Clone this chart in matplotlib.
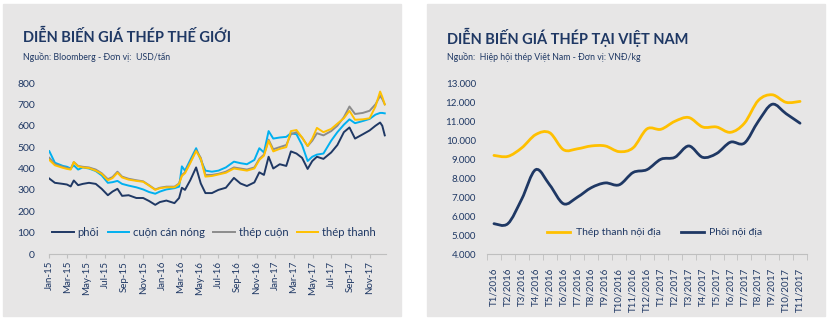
import matplotlib
matplotlib.use("Agg")
import matplotlib.pyplot as plt
import matplotlib.dates as mdates
from matplotlib.patches import Rectangle, PathPatch
from matplotlib.path import Path
from matplotlib.lines import Line2D
import numpy as np
import pandas as pd

# ---- left chart data (USD/tan) ----
world_dates = [
    "2015-01-02", "2015-01-20", "2015-02-15", "2015-02-28", "2015-03-12", "2015-03-22",
    "2015-04-05", "2015-04-20", "2015-05-10", "2015-06-01", "2015-06-20", "2015-07-10",
    "2015-07-25", "2015-08-10", "2015-08-25", "2015-09-15", "2015-10-10", "2015-11-01",
    "2015-11-20", "2015-12-10", "2015-12-25", "2016-01-15", "2016-02-10", "2016-02-25",
    "2016-03-05", "2016-03-15", "2016-04-01", "2016-04-20", "2016-05-05", "2016-05-20",
    "2016-06-10", "2016-07-01", "2016-07-25", "2016-08-20", "2016-09-10", "2016-10-01",
    "2016-10-25", "2016-11-10", "2016-11-25", "2016-12-10", "2016-12-25", "2017-01-15",
    "2017-02-05", "2017-02-20", "2017-03-10", "2017-03-28", "2017-04-15", "2017-04-30",
    "2017-05-15", "2017-06-05", "2017-06-30", "2017-07-20", "2017-08-10", "2017-08-28",
    "2017-09-15", "2017-10-10", "2017-11-01", "2017-11-20", "2017-12-05", "2017-12-12",
    "2017-12-20",
]
phoi = [353, 333, 328, 325, 316, 344, 322, 328, 333, 328, 305, 275, 292, 305, 272, 275,
        262, 262, 248, 230, 243, 250, 238, 262, 310, 300, 345, 405, 330, 285, 285, 300,
        310, 356, 330, 318, 335, 382, 370, 455, 400, 420, 412, 480, 470, 450, 398, 435,
        455, 445, 475, 510, 570, 592, 540, 560, 578, 600, 615, 600, 555]
cuon_can_nong = [481, 427, 412, 408, 400, 415, 395, 405, 400, 388, 368, 333, 336, 342, 328,
                 320, 312, 302, 290, 282, 292, 302, 308, 315, 410, 390, 440, 495, 440, 390,
                 385, 390, 405, 432, 425, 420, 440, 495, 475, 575, 540, 545, 548, 565, 560,
                 510, 435, 455, 465, 470, 530, 570, 605, 630, 612, 622, 632, 652, 660, 660,
                 658]
thep_cuon = [450, 420, 408, 402, 398, 430, 412, 408, 405, 395, 378, 350, 360, 385, 362, 352,
             345, 340, 322, 302, 310, 315, 315, 330, 370, 382, 430, 485, 450, 370, 370, 375,
             385, 405, 400, 395, 405, 445, 465, 535, 490, 500, 510, 560, 570, 545, 505, 530,
             565, 555, 575, 600, 640, 690, 655, 660, 670, 700, 740, 725, 700]
thep_thanh = [440, 415, 403, 398, 395, 430, 410, 405, 402, 390, 375, 345, 355, 380, 358, 348,
              342, 338, 320, 300, 308, 312, 312, 328, 365, 378, 425, 482, 445, 362, 365, 372,
              380, 400, 395, 390, 400, 440, 460, 530, 480, 492, 500, 575, 580, 545, 505, 540,
              590, 570, 585, 610, 635, 670, 628, 630, 635, 690, 760, 735, 700]

# ---- right chart data (VND/kg) ----
vn_months = ["T1/2016", "T2/2016", "T3/2016", "T4/2016", "T5/2016", "T6/2016", "T7/2016",
             "T8/2016", "T9/2016", "T10/2016", "T11/2016", "T12/2016", "T1/2017", "T2/2017",
             "T3/2017", "T4/2017", "T5/2017", "T6/2017", "T7/2017", "T8/2017", "T9/2017",
             "T10/2017", "T11/2017"]
thep_thanh_noi_dia = [9200, 9150, 9600, 10300, 10400, 9500, 9550, 9700, 9700, 9400, 9600,
                      10600, 10580, 11000, 11200, 10700, 10700, 10420, 10900, 12100, 12400,
                      12000, 12050]
phoi_noi_dia = [5600, 5600, 6900, 8450, 7650, 6650, 7000, 7500, 7750, 7650, 8300, 8450,
                9000, 9100, 9700, 9100, 9300, 9900, 9850, 11000, 11900, 11400, 10900]

NAVY = "#1F3864"
BLUE = "#00B0F0"
GRAY = "#8C8C8C"
GOLD = "#FFC000"
PANEL = "#E7E6E6"

plt.rcParams["font.family"] = ["Lato", "DejaVu Sans"]

fig = plt.figure(figsize=(8.28, 3.22), dpi=100)
W, H = 828, 322

# gray panels behind both charts
for x0, x1 in [(3, 401), (427, 825)]:
    fig.patches.append(Rectangle((x0 / W, 1 - 316 / H), (x1 - x0) / W, 312 / H,
                                 transform=fig.transFigure, color=PANEL, zorder=-5))

# titles
fig.text(23 / W, 1 - 37 / H, "DIỄN BIẾN GIÁ THÉP THẾ GIỚI", fontsize=10.5, fontweight="bold",
         color=NAVY, va="center")
fig.text(23 / W, 1 - 57 / H, "Nguồn: Bloomberg - Đơn vị:  USD/tấn", fontsize=6.3,
         color=NAVY, va="center")
fig.text(447 / W, 1 - 37 / H, "DIỄN BIẾN GIÁ THÉP TẠI VIỆT NAM", fontsize=10.5,
         fontweight="bold", color=NAVY, va="center")
fig.text(447 / W, 1 - 57 / H, "Nguồn:  Hiệp hội thép Việt Nam - Đơn vị: VNĐ/kg", fontsize=6.3,
         color=NAVY, va="center")

# ---------------- left chart ----------------
ax1 = fig.add_axes([49 / W, 68 / H, 337 / W, 171 / H])
ax1.set_facecolor("none")
d = pd.to_datetime(world_dates)
ax1.plot(d, phoi, color=NAVY, lw=1.4, label="phôi")
ax1.plot(d, cuon_can_nong, color=BLUE, lw=1.4, label="cuộn cán nóng")
ax1.plot(d, thep_cuon, color=GRAY, lw=1.4, label="thép cuộn")
ax1.plot(d, thep_thanh, color=GOLD, lw=1.4, label="thép thanh")
ax1.set_ylim(0, 800)
ax1.set_yticks(range(0, 801, 100))
ax1.set_xlim(pd.Timestamp("2015-01-01"), pd.Timestamp("2017-12-24"))
ax1.xaxis.set_major_locator(mdates.MonthLocator(bymonth=[1, 3, 5, 7, 9, 11]))
ax1.xaxis.set_major_formatter(mdates.DateFormatter("%b-%y"))
ax1.tick_params(axis="x", labelrotation=90, labelsize=7, colors=NAVY, length=3,
                color="#BFBFBF", pad=2)
ax1.tick_params(axis="y", labelsize=7.5, colors=NAVY, length=0, pad=10)
for s in ["top", "right", "left"]:
    ax1.spines[s].set_visible(False)
ax1.spines["bottom"].set_color("#BFBFBF")
ax1.legend(loc="center", bbox_to_anchor=(0.49, 0.125), ncol=4, frameon=False, fontsize=8.1,
           labelcolor=NAVY, handlelength=1.9, columnspacing=0.75, handletextpad=0.35)

# ---------------- right chart ----------------
ax2 = fig.add_axes([487 / W, 68 / H, 320 / W, 170.6 / H])
ax2.set_facecolor("none")
xs = np.arange(len(vn_months))


def smooth_path(x, y):
    # Catmull-Rom style bezier through the data points (like Excel smoothed lines)
    pts = np.column_stack([x, y]).astype(float)
    verts = [pts[0]]
    codes = [Path.MOVETO]
    n = len(pts)
    for i in range(n - 1):
        p0 = pts[i - 1] if i > 0 else pts[i]
        p1 = pts[i]
        p2 = pts[i + 1]
        p3 = pts[i + 2] if i + 2 < n else pts[i + 1]
        c1 = p1 + (p2 - p0) / 6
        c2 = p2 - (p3 - p1) / 6
        verts += [c1, c2, p2]
        codes += [Path.CURVE4] * 3
    return Path(verts, codes)


ax2.add_patch(PathPatch(smooth_path(xs, thep_thanh_noi_dia), fill=False, edgecolor=GOLD,
                        lw=2.0, capstyle="round"))
ax2.add_patch(PathPatch(smooth_path(xs, phoi_noi_dia), fill=False, edgecolor=NAVY,
                        lw=2.0, capstyle="round"))
ax2.set_xlim(-0.5, len(vn_months) - 0.5)
ax2.set_ylim(4000, 13000)
ax2.set_yticks(range(4000, 13001, 1000))
ax2.set_yticklabels([f"{v:,}".replace(",", ".") for v in range(4000, 13001, 1000)])
ax2.set_xticks(xs)
ax2.set_xticklabels(vn_months)
ax2.set_xticks(np.arange(-0.5, len(vn_months), 1), minor=True)
ax2.tick_params(axis="x", which="major", length=0, labelrotation=90, labelsize=7,
                colors=NAVY, pad=10)
ax2.tick_params(axis="x", which="minor", length=4, color="#BFBFBF")
ax2.tick_params(axis="y", labelsize=7, colors=NAVY, length=0, pad=8)
for s in ["top", "right", "left"]:
    ax2.spines[s].set_visible(False)
ax2.spines["bottom"].set_color("#BFBFBF")
handles = [Line2D([], [], color=GOLD, lw=2.0), Line2D([], [], color=NAVY, lw=2.0)]
ax2.legend(handles, ["Thép thanh nội địa", "Phôi nội địa"], loc="center",
           bbox_to_anchor=(0.525, 0.125), ncol=2, frameon=False, fontsize=7.5, labelcolor=NAVY,
           handlelength=2.2, columnspacing=1.9, handletextpad=0.55)

fig.savefig("out.png", dpi=100)
